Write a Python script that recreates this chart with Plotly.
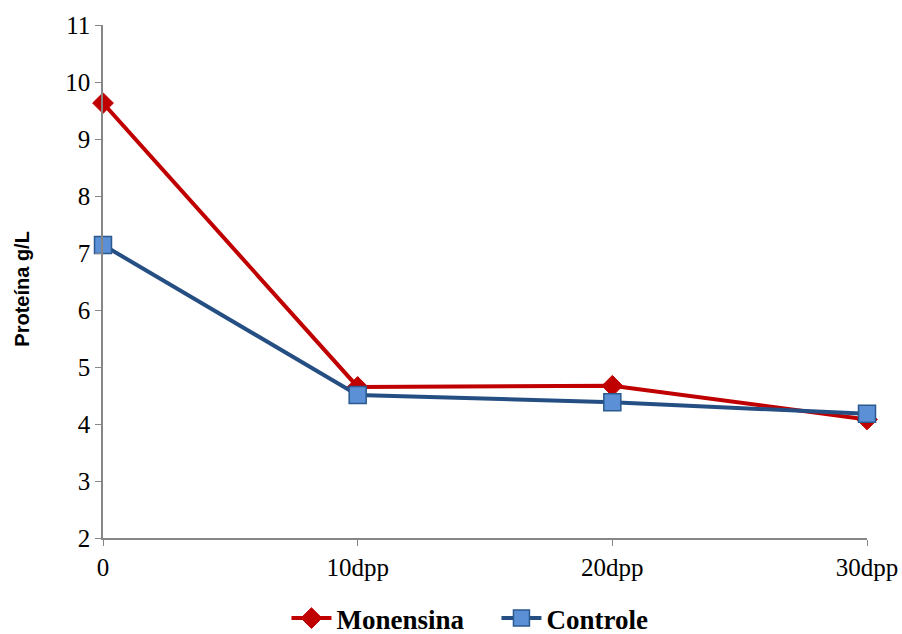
import plotly.graph_objects as go

categories = ["0", "10dpp", "20dpp", "30dpp"]
monensina = [9.63, 4.65, 4.67, 4.08]
controle = [7.14, 4.51, 4.38, 4.18]
y_ticks = [2, 3, 4, 5, 6, 7, 8, 9, 10, 11]

xpos = list(range(len(categories)))

SERIF = "Liberation Serif"

fig = go.Figure()
fig.add_trace(go.Scatter(
    x=xpos, y=monensina, name="<b>Monensina</b>", mode="lines+markers",
    line=dict(color="#C00000", width=4),
    marker=dict(symbol="diamond", size=16, color="#C00000", line=dict(color="#C00000", width=1)),
    cliponaxis=False,
))
fig.add_trace(go.Scatter(
    x=xpos, y=controle, name="<b>Controle</b>", mode="lines+markers",
    line=dict(color="#254F83", width=4),
    marker=dict(symbol="square", size=17, color="#5B8FD6", line=dict(color="#2A5A8E", width=1.5)),
    cliponaxis=False,
))

axis_font = dict(family=SERIF, size=25, color="#000000")

fig.update_layout(
    width=902, height=634,
    margin=dict(l=103, r=35, t=25, b=96, autoexpand=False),
    paper_bgcolor="white", plot_bgcolor="white",
    font=dict(family=SERIF),
    showlegend=True,
    legend=dict(orientation="h", x=0.515, xanchor="center", y=-0.157, yanchor="middle",
                font=dict(family=SERIF, size=27, color="#000000"),
                itemwidth=40, entrywidth=155, tracegroupgap=0),
    xaxis=dict(
        range=[0, 3], tickvals=xpos, ticktext=categories,
        showgrid=False, zeroline=False,
        showline=True, linecolor="#868686", linewidth=1.5,
        ticks="outside", ticklen=6, tickcolor="#868686", tickwidth=1,
        tickfont=axis_font,
    ),
    yaxis=dict(
        range=[2, 11], tickvals=y_ticks,
        showgrid=False, zeroline=False,
        showline=True, linecolor="#868686", linewidth=1.5,
        ticks="outside", ticklen=6, tickcolor="#868686", tickwidth=1,
        tickfont=axis_font,
    ),
    annotations=[dict(
        text="<b>Proteína g/L</b>", textangle=-90,
        xref="paper", yref="paper", x=-0.106, y=0.486,
        xanchor="center", yanchor="middle", showarrow=False,
        font=dict(family="Liberation Sans", size=20, color="#000000"),
    )],
)

fig.write_html("out.html")
